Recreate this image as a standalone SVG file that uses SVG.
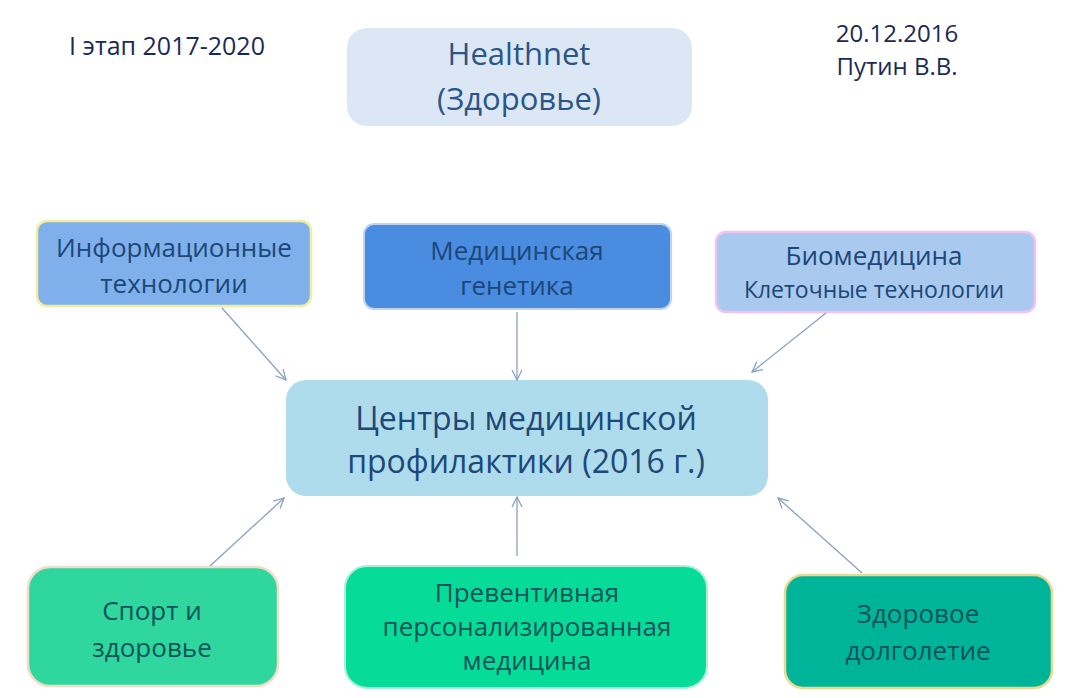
<svg xmlns="http://www.w3.org/2000/svg" width="1073" height="698" viewBox="0 0 1073 698">
<defs>
<marker id="ah" viewBox="0 0 12 12" refX="11" refY="6" markerWidth="12" markerHeight="12" markerUnits="userSpaceOnUse" orient="auto">
<polyline points="1,1 11,6 1,11" fill="none" stroke="#8aa0c4" stroke-width="1.3"/>
</marker>
</defs>
<style>
text{font-family:"Open Sans","Noto Sans",sans-serif;text-anchor:middle}
.hdr{fill:#1a2a58;font-size:24px;font-weight:500}
.top{fill:#1c4778;font-size:26px}
.bot{fill:#0d5458;font-size:26px}
.ctr{fill:#1e4878;font-size:32px}
.conn line{stroke:#8aa0c4;stroke-width:1.3;marker-end:url(#ah)}
</style>
<rect width="1073" height="698" fill="#ffffff"/>
<text class="hdr" x="167" y="55" style="font-size:25px">I этап 2017-2020</text>
<text class="hdr" x="897" y="42">20.12.2016</text>
<text class="hdr" x="897" y="75">Путин В.В.</text>
<g id="healthnet">
<rect x="347" y="28" width="345" height="98" rx="20" fill="#dce7f5"/>
<text class="ctr" x="519" y="65" style="font-size:31px;fill:#2a5588">Healthnet</text>
<text class="ctr" x="519" y="110" style="font-size:31px;fill:#2a5588">(Здоровье)</text>
</g>
<g id="it">
<rect x="37" y="221" width="274" height="85" rx="10" fill="#7fb0ec" stroke="#f2eca0" stroke-width="2.5"/>
<text class="top" x="174" y="257">Информационные</text>
<text class="top" x="174" y="293">технологии</text>
</g>
<g id="genetics">
<rect x="364" y="224" width="307" height="85" rx="10" fill="#4a8ce0" stroke="#bcd6f0" stroke-width="2"/>
<text class="top" x="517" y="260">Медицинская</text>
<text class="top" x="517" y="295">генетика</text>
</g>
<g id="biomed">
<rect x="716" y="232" width="319" height="80" rx="10" fill="#a9c9ee" stroke="#f0c4f0" stroke-width="2.5"/>
<text class="top" x="874" y="265">Биомедицина</text>
<text class="top" x="874" y="298" style="font-size:23px">Клеточные технологии</text>
</g>
<g id="centers">
<rect x="286" y="380" width="482" height="116" rx="20" fill="#aedcec"/>
<text class="ctr" x="526" y="430">Центры медицинской</text>
<text class="ctr" x="526" y="473">профилактики (2016 г.)</text>
</g>
<g id="sport">
<rect x="28" y="567" width="250" height="119" rx="22" fill="#2fd69e" stroke="#f2dcc8" stroke-width="2.5"/>
<text class="bot" x="152" y="620">Спорт и</text>
<text class="bot" x="152" y="657">здоровье</text>
</g>
<g id="preventive">
<rect x="345" y="566" width="362" height="122" rx="22" fill="#06dc98" stroke="#a8f0d8" stroke-width="2"/>
<text class="bot" x="527" y="602">Превентивная</text>
<text class="bot" x="527" y="636">персонализированная</text>
<text class="bot" x="527" y="670">медицина</text>
</g>
<g id="longevity">
<rect x="785" y="575" width="267" height="113" rx="18" fill="#00b49a" stroke="#ecd890" stroke-width="2.5"/>
<text class="bot" x="918" y="623">Здоровое</text>
<text class="bot" x="918" y="660">долголетие</text>
</g>
<g class="conn">
<line x1="222" y1="308" x2="286" y2="380"/>
<line x1="517" y1="312" x2="517" y2="380"/>
<line x1="826" y1="313" x2="752" y2="372"/>
<line x1="210" y1="566" x2="284" y2="498"/>
<line x1="517" y1="556" x2="517" y2="497"/>
<line x1="862" y1="573" x2="778" y2="498"/>
</g>
</svg>
